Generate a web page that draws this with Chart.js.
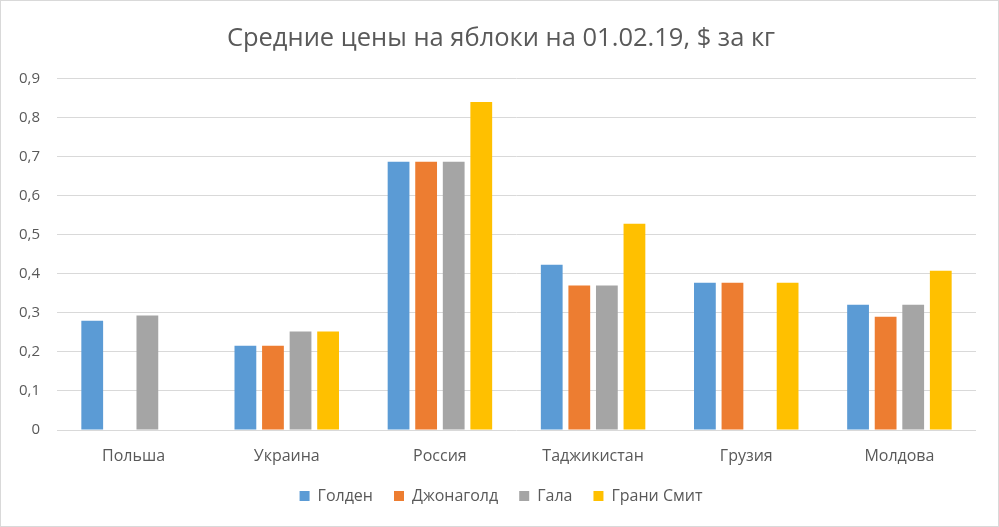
<!DOCTYPE html>
<html><head><meta charset="utf-8">
<script src="https://cdn.jsdelivr.net/npm/chart.js@4/dist/chart.umd.min.js"></script>
<style>
html,body{margin:0;padding:0;background:#fff;}
#wrap{position:absolute;left:0;top:0;width:997px;height:525px;border:1px solid #d9d9d9;}
</style></head>
<body>
<div id="wrap"><canvas id="c" width="997" height="525"></canvas></div>
<script>
const titleText = 'Средние цены на яблоки на 01.02.19, $ за кг';
const categories = ['Польша','Украина','Россия','Таджикистан','Грузия','Молдова'];
const seriesNames = ['Голден','Джонаголд','Гала','Грани Смит'];
const golden = [0.28, 0.216, 0.687, 0.423, 0.377, 0.321];
const jonagold = [null, 0.216, 0.687, 0.37, 0.377, 0.29];
const gala = [0.293, 0.252, 0.687, 0.37, null, 0.321];
const grannySmith = [null, 0.252, 0.84, 0.528, 0.377, 0.408];
const yTicks = [0,0.1,0.2,0.3,0.4,0.5,0.6,0.7,0.8,0.9];
const colors = ['#5B9BD5','#ED7D31','#A5A5A5','#FFC000'];
const seriesData = [golden, jonagold, gala, grannySmith];

const FONT = '"Open Sans", "Liberation Sans", sans-serif';
new Chart(document.getElementById('c'), {
  type: 'bar',
  data: {
    labels: categories,
    datasets: seriesNames.map((n,i)=>({
      label: n, data: seriesData[i], backgroundColor: colors[i], borderWidth: 0,
      barPercentage: 0.79, categoryPercentage: 0.72
    }))
  },
  options: {
    responsive: false, animation: false,
    layout: { padding: { left: 3, right: 0, top: 0, bottom: 12 } },
    plugins: {
      title: { display: true, text: titleText, color: '#595959',
        font: { family: FONT, size: 25.5, weight: 'normal' }, padding: { top: 22, bottom: 25 } },
      legend: { position: 'bottom', labels: { boxWidth: 10, boxHeight: 10, color: '#595959',
        font: { family: FONT, size: 16 }, padding: 21 } },
      tooltip: { enabled: false }
    },
    scales: {
      x: { grid: { display: false, drawTicks: false }, border: { display: false },
        afterFit: s => { s.height = 37; },
        ticks: { color: '#595959', font: { family: FONT, size: 16 }, padding: 17 } },
      y: { min: 0, max: 0.9, afterBuildTicks: s => { s.ticks = yTicks.map(v=>({value:v})); },
        afterFit: s => { s.width = 53; },
        grid: { color: '#d9d9d9', lineWidth: 1, drawTicks: false }, border: { display: false },
        ticks: { color: '#595959', font: { family: FONT, size: 15 }, padding: 17 } ,
        afterTickToLabelConversion: s => { s.ticks.forEach(t => { t.label = String(Math.round(t.value*10)/10).replace('.', ','); }); }
      },
      yRight: { position: 'right', min: 0, max: 0.9, afterFit: s => { s.width = 22; },
        grid: { display: false, drawTicks: false }, border: { display: false },
        ticks: { display: false } }
    }
  }
});
</script>
</body></html>
